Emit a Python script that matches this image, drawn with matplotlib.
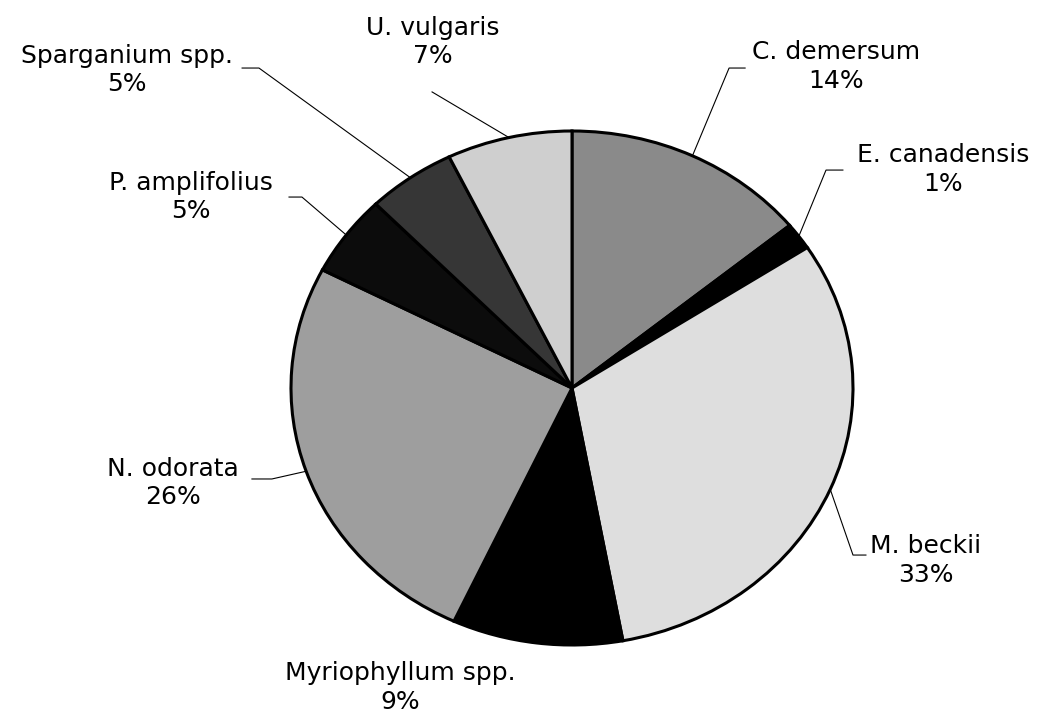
import numpy as np
import matplotlib
matplotlib.use("Agg")
import matplotlib.pyplot as plt

# species shares, clockwise from 12 o'clock (slice sizes as drawn)
species = ["C. demersum", "E. canadensis", "M. beckii", "Myriophyllum spp.",
           "N. odorata", "P. amplifolius", "Sparganium spp.", "U. vulgaris"]
shares = [14.1, 1.7, 31.3, 9.8, 25.7, 5.1, 5.1, 7.2]
pct_labels = ["14%", "1%", "33%", "9%", "26%", "5%", "5%", "7%"]

fills = ["#8a8a8a", "#000000", "#dedede", "#000000",
         "#9e9e9e", "#0c0c0c", "#363636", "#cfcfcf"]

# label centre (x, y) and leader tick (x0, x1, y) in pie units
label_pos = [(0.94, 1.25), (1.32, 0.85), (1.26, -0.67), (-0.61, -1.165),
             (-1.42, -0.37), (-1.356, 0.743), (-1.584, 1.237), (-0.495, 1.346)]
ticks = [(0.616, 0.559, 1.245), (0.964, 0.904, 0.848), (1.046, 1.0, -0.65), None,
         (-1.139, -1.068, -0.354), (-1.007, -0.961, 0.743),
         (-1.174, -1.114, 1.245), (-0.498, -0.498, 1.152)]

W, H = 1053, 713
fig = plt.figure(figsize=(W / 100, H / 100), dpi=100)
# pie box in pixels: x 291..853, y 131..645
ax = fig.add_axes([291 / W, (H - 645) / H, 562 / W, 514 / H])

wedges, _ = ax.pie(shares, colors=fills, startangle=90, counterclock=False,
                   wedgeprops=dict(edgecolor="black", linewidth=2.2))
ax.set_aspect("auto")
ax.set_xlim(-1, 1)
ax.set_ylim(-1, 1)
ax.axis("off")

cum = np.cumsum([0] + shares)
for i, name in enumerate(species):
    mid = np.deg2rad((cum[i] + cum[i + 1]) / 2 * 3.6)
    ax_, ay_ = np.sin(mid), np.cos(mid)
    lx, ly = label_pos[i]
    ax.text(lx, ly, name + "\n" + pct_labels[i], ha="center", va="center",
            fontsize=18, family="DejaVu Sans", linespacing=1.25,
            clip_on=False)
    if ticks[i] is not None:
        x0, x1, ty = ticks[i]
        ax.plot([x0, x1, ax_], [ty, ty, ay_], color="black", lw=0.8,
                clip_on=False)

fig.savefig("out.png", dpi=100)
